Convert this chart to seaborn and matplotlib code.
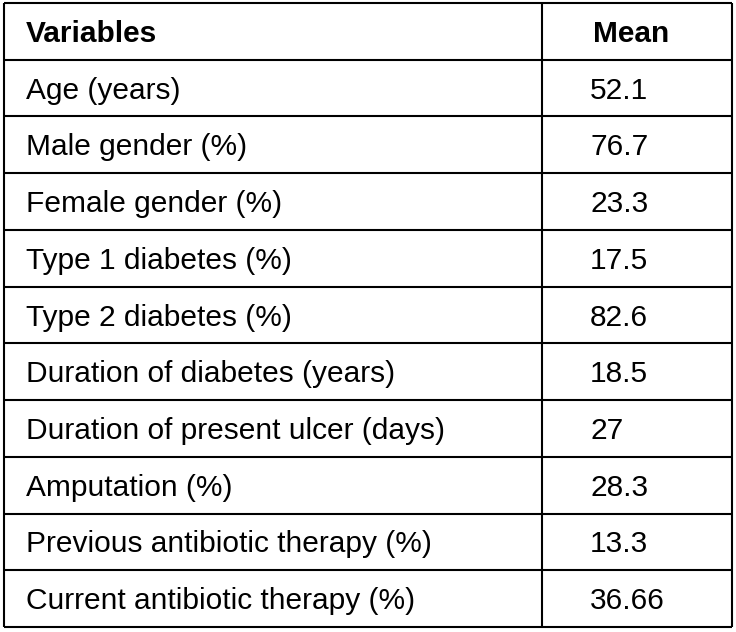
import matplotlib
matplotlib.use("Agg")
import matplotlib.pyplot as plt
import seaborn as sns

# Table contents
header = ["Variables", "Mean"]
variables = [
    "Age (years)",
    "Male gender (%)",
    "Female gender (%)",
    "Type 1 diabetes (%)",
    "Type 2 diabetes (%)",
    "Duration of diabetes (years)",
    "Duration of present ulcer (days)",
    "Amputation (%)",
    "Previous antibiotic therapy (%)",
    "Current antibiotic therapy (%)",
]
means = ["52.1", "76.7", "23.3", "17.5", "82.6", "18.5", "27", "28.3", "13.3", "36.66"]

sns.set_theme(style="white")
plt.rcParams['font.family'] = ['Liberation Sans', 'DejaVu Sans']

W, H = 736, 632
fig = plt.figure(figsize=(W / 100, H / 100), dpi=100)
ax = fig.add_axes([0, 0, 1, 1])
ax.set_xlim(0, W)
ax.set_ylim(H, 0)
ax.axis("off")

# layout in pixel units
left, right, top, bottom = 4, 732, 3, 627
col_split = 542
n_rows = len(variables) + 1
row_h = (bottom - top) / n_rows
text_x = [26, 590]
fs = 21.5
lw = 1.5

# grid lines
for i in range(n_rows + 1):
    ax.hlines(top + i * row_h, left, right, color="black", lw=lw)
ax.vlines([left, col_split, right], top, bottom, color="black", lw=lw)

rows = [header] + [[v, m] for v, m in zip(variables, means)]
for i, row in enumerate(rows):
    yc = top + (i + 0.5) * row_h + 2.5
    weight = "bold" if i == 0 else "normal"
    for j, txt in enumerate(row):
        ax.text(text_x[j] + (3 if (i == 0 and j == 1) else 0), yc, txt,
                fontsize=fs, fontweight=weight, color="black",
                ha="left", va="center")

fig.savefig("out.png", dpi=100, facecolor="white")
plt.close(fig)
